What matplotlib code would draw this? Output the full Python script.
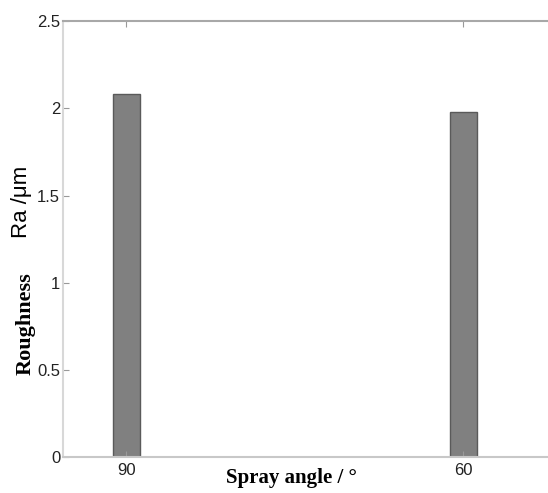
import numpy as np
import matplotlib.pyplot as plt

# Data
angles = ['90', '60']
roughness = [2.08, 1.98]

fig = plt.figure(figsize=(5.48, 4.93), dpi=100)
ax = fig.add_axes([0.115, 0.073, 0.885, 0.884])

x = np.arange(len(angles))
ax.bar(x, roughness, width=0.08, color='#808080', edgecolor='#5a5a5a', linewidth=1.0)

ax.set_xlim(-0.188, 1.251)
ax.set_ylim(0, 2.5)
ax.set_xticks(x)
ax.set_xticklabels(angles)
ax.set_yticks([0, 0.5, 1, 1.5, 2, 2.5])
ax.set_yticklabels(['0', '0.5', '1', '1.5', '2', '2.5'])

for lab in ax.get_xticklabels() + ax.get_yticklabels():
    lab.set_fontfamily('Liberation Sans')
    lab.set_fontsize(12)
    lab.set_color('#222222')

ax.tick_params(axis='both', direction='in', length=4, color='#999999', pad=2)
ax.tick_params(axis='x', top=True, pad=4)

ax.spines['right'].set_visible(False)
ax.spines['left'].set_color('#d8d8d8')
ax.spines['bottom'].set_color('#c8c8c8')
ax.spines['top'].set_color('#a8a8a8')
for s in ['left', 'bottom', 'top']:
    ax.spines[s].set_linewidth(1.5)

# x label
fig.text(0.531, 0.030, 'Spray angle / °', ha='center', va='center',
         fontfamily='Liberation Serif', fontweight='bold', fontsize=15)

# y label: bold serif word plus sans unit
fig.text(0.046, 0.343, 'Roughness', rotation=90, ha='center', va='center',
         fontfamily='Liberation Serif', fontweight='bold', fontsize=16)
fig.text(0.040, 0.590, 'Ra /μm', rotation=90, ha='center', va='center',
         fontfamily='Liberation Sans', fontsize=16)

fig.savefig('out.png', dpi=100)
